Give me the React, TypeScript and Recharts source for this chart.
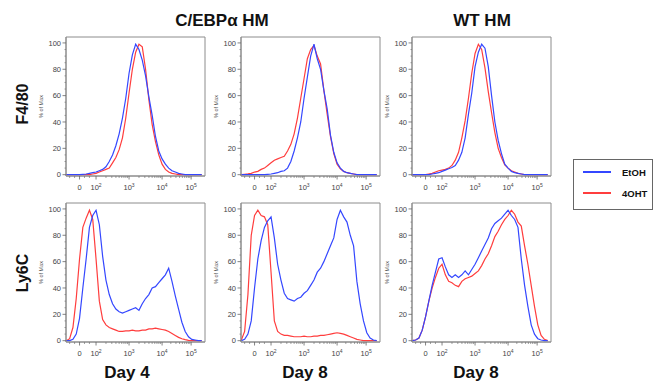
import React from "react";
import { LineChart, Line, XAxis, YAxis, ReferenceArea } from "recharts";

// histogram bins on the logicle display scale (0 = zero, 0.5 = 10^2, 1.5 = 10^3, 2.5 = 10^4)
const BINS = [
  -0.4, -0.3, -0.2, -0.1, 0, 0.1, 0.2, 0.3, 0.4, 0.5, 0.6, 0.7, 0.8, 0.9, 1.0, 1.1, 1.2, 1.3, 1.4, 1.5, 1.6,
  1.7, 1.8, 1.9, 2.0, 2.1, 2.2, 2.3, 2.4, 2.5, 2.6, 2.7, 2.8, 2.9, 3.0, 3.1, 3.2, 3.3, 3.4, 3.5, 3.6, 3.7,
];

const COLUMNS = ["C/EBPα HM", "WT HM"];
const ROWS = ["F4/80", "Ly6C"];
const DAYS = ["Day 4", "Day 8", "Day 8"];
const SERIES = ["EtOH", "4OHT"];

const X_MAJOR = [0, 0.5, 1.5, 2.5, 3.38];
const X_BASE = ["0", "10", "10", "10", "10"];
const X_EXP = ["", "2", "3", "4", "5"];
const Y_MAJOR = [0, 20, 40, 60, 80, 100];

// % of max, F4/80
const F480_CEBPA_D4_ETOH = [0, 0, 0, 0, 0, 0.3, 0.5, 1, 1.5, 2, 3, 4, 6, 10, 15, 22, 31, 43, 58, 77, 91, 99, 95, 87, 75, 59, 45, 29, 18, 12, 8, 5, 3, 2, 1, 0.5, 0, 0, 0, 0, 0, 0];
const F480_CEBPA_D4_4OHT = [0, 0, 0, 0, 0, 0, 0, 0, 0.5, 1, 2, 3, 4, 5, 9, 13, 19, 28, 43, 62, 80, 93, 99, 97, 80, 57, 38, 25, 15, 8, 4, 2, 1, 0.5, 0, 0, 0, 0, 0, 0, 0, 0];
const F480_CEBPA_D8_ETOH = [0, 0, 0, 0, 0, 0, 0, 0, 0.3, 0.5, 1, 1.5, 2.5, 3, 5, 10, 18, 28, 40, 58, 74, 90, 99, 88, 80, 64, 50, 30, 17, 9, 5, 2.5, 1.5, 1, 0.5, 0, 0, 0, 0, 0, 0, 0];
const F480_CEBPA_D8_4OHT = [0, 0.3, 0.6, 1, 2, 2.5, 4, 5, 7, 9, 11, 12, 13, 14, 18, 23, 31, 43, 58, 73, 88, 95, 98, 90, 84, 64, 46, 29, 16, 8, 4.5, 2.5, 1.5, 1, 0.5, 0, 0, 0, 0, 0, 0, 0];
const F480_WT_D8_ETOH = [0, 0, 0, 0, 0, 0, 0.5, 1, 1.5, 2.5, 3.5, 4.5, 5.5, 7, 11, 17, 28, 46, 62, 82, 93, 99, 96, 82, 60, 40, 26, 16, 8, 5, 2.5, 1.5, 1, 0.5, 0, 0, 0, 0, 0, 0, 0, 0];
const F480_WT_D8_4OHT = [0, 0, 0, 0, 0, 0.5, 1, 2, 3, 3.5, 4, 5, 7, 11, 17, 28, 41, 58, 77, 92, 99, 95, 81, 63, 47, 32, 20, 13, 7.5, 5, 3, 2, 1, 0.5, 0, 0, 0, 0, 0, 0, 0, 0];

// % of max, Ly6C
const LY6C_CEBPA_D4_ETOH = [0, 0, 1, 5, 17, 40, 62, 86, 95, 99, 88, 64, 46, 35, 28, 24, 22, 21, 22, 23, 24, 25, 23, 28, 32, 35, 40, 41, 44, 47, 50, 55, 45, 34, 24, 14, 7, 3, 1, 0.5, 0, 0];
const LY6C_CEBPA_D4_4OHT = [0, 1.5, 10, 32, 62, 86, 93, 99, 92, 62, 30, 16, 12, 10, 9, 8, 7, 7, 7.5, 7.5, 8, 7.5, 7.5, 8, 8, 9, 9, 9.5, 9, 8.5, 8, 7, 5.5, 4, 2.5, 1.5, 0.8, 0.3, 0, 0, 0, 0];
const LY6C_CEBPA_D8_ETOH = [0, 1, 5, 15, 40, 62, 76, 86, 91, 94, 78, 58, 46, 36, 32, 31, 30, 32, 33, 36, 38, 42, 46, 52, 55, 60, 66, 72, 78, 92, 99, 94, 90, 80, 72, 45, 28, 15, 6, 2, 0.5, 0];
const LY6C_CEBPA_D8_4OHT = [0.5, 7, 35, 80, 95, 99, 95, 94, 88, 52, 15, 7, 5, 4, 4, 3.5, 3, 3, 3, 3.5, 3, 3, 3.5, 3.5, 4, 4, 4.5, 5, 5.5, 6, 5.5, 5, 4, 3, 2, 1, 0.5, 0, 0, 0, 0, 0];
const LY6C_WT_D8_ETOH = [0, 0.5, 2, 8, 18, 30, 42, 52, 62, 63, 56, 50, 48, 50, 48, 50, 53, 50, 54, 58, 63, 68, 73, 78, 85, 89, 91, 93, 96, 99, 95, 92, 86, 62, 42, 26, 12, 5, 1.5, 0.5, 0, 0];
const LY6C_WT_D8_4OHT = [0, 0.5, 2, 8, 18, 30, 40, 48, 55, 58, 50, 45, 44, 42, 41, 45, 47, 48, 49, 51, 53, 57, 62, 66, 72, 79, 83, 88, 92, 95, 99, 96, 90, 87, 72, 58, 42, 26, 12, 4, 1, 0];

const BLUE = "#3447ff";
const RED = "#ff3d3d";
const FRAME = "#8c8c8c";
const FONT = "'Liberation Sans', Arial, Helvetica, sans-serif";
const X_DOMAIN = [-0.41, 3.8];
const Y_DOMAIN = [-1, 104.5];

// minor ticks: a few in the linear zone, 2..9 in each decade
const X_MINOR: number[] = [-0.3, -0.15, 0.15, 0.3];
[0.5, 1.5, 2.5].forEach((start, d) => {
  const span = d === 2 ? X_MAJOR[4] - X_MAJOR[3] : 1;
  for (let m = 2; m <= 9; m++) X_MINOR.push(start + Math.log10(m) * span);
});
const X_TICKS = [...X_MAJOR, ...X_MINOR];
const Y_TICKS = Array.from({ length: 21 }, (_, i) => i * 5);

const PLOT = 139;
const YW = 36;
const XH = 24;

function XTick(props: any) {
  const { x, y, payload } = props;
  const i = X_MAJOR.findIndex((v) => Math.abs(v - payload.value) < 1e-6);
  if (i < 0) return <line x1={x} x2={x} y1={y} y2={y + 2} stroke="#777" strokeWidth={0.7} />;
  return (
    <g>
      <line x1={x} x2={x} y1={y} y2={y + 3.5} stroke="#666" strokeWidth={0.8} />
      <text x={x} y={y + 13.5} textAnchor="middle" fontSize={7.5} fill="#444" fontFamily={FONT}>
        {X_BASE[i]}
        {X_EXP[i] ? (
          <tspan dy={-3} fontSize={5}>
            {X_EXP[i]}
          </tspan>
        ) : null}
      </text>
    </g>
  );
}

function YTick(props: any) {
  const { x, y, payload } = props;
  const major = Y_MAJOR.includes(payload.value);
  if (!major) return <line x1={x} x2={x - 1.5} y1={y} y2={y} stroke="#777" strokeWidth={0.7} />;
  return (
    <g>
      <line x1={x} x2={x - 3.5} y1={y} y2={y} stroke="#666" strokeWidth={0.8} />
      <text x={x - 5} y={y + 2.6} textAnchor="end" fontSize={7.5} fill="#444" fontFamily={FONT}>
        {payload.value}
      </text>
    </g>
  );
}

function MaxLabel(props: any) {
  const { viewBox } = props;
  const cx = viewBox.x + 13;
  const cy = viewBox.y + viewBox.height / 2;
  return (
    <text transform={`translate(${cx},${cy}) rotate(-90)`} textAnchor="middle" fontSize={5.5} fill="#555" fontFamily={FONT}>
      % of Max
    </text>
  );
}

function Histogram({ etoh, oht, left, top }: { etoh: number[]; oht: number[]; left: number; top: number }) {
  const data = BINS.map((u, i) => ({ u, etoh: etoh[i], oht: oht[i] }));
  return (
    <div style={{ position: "absolute", left: left - YW, top: top - 1 }}>
      <LineChart width={YW + PLOT + 1} height={1 + PLOT + XH} data={data} margin={{ top: 1, right: 1, bottom: 0, left: 0 }}>
        <XAxis
          dataKey="u"
          type="number"
          domain={X_DOMAIN}
          allowDataOverflow
          ticks={X_TICKS}
          interval={0}
          tick={<XTick />}
          tickLine={false}
          tickSize={0}
          tickMargin={0}
          height={XH}
          axisLine={{ stroke: FRAME }}
        />
        <YAxis
          type="number"
          domain={Y_DOMAIN}
          allowDataOverflow
          ticks={Y_TICKS}
          interval={0}
          tick={<YTick />}
          tickLine={false}
          tickSize={0}
          tickMargin={0}
          width={YW}
          axisLine={{ stroke: FRAME }}
          label={<MaxLabel />}
        />
        <ReferenceArea x1={X_DOMAIN[0]} x2={X_DOMAIN[1]} y1={Y_DOMAIN[0]} y2={Y_DOMAIN[1]} fill="none" stroke={FRAME} strokeWidth={1} ifOverflow="visible" />
        <Line dataKey="oht" name={SERIES[1]} stroke={RED} strokeWidth={1.2} dot={false} type="linear" isAnimationActive={false} />
        <Line dataKey="etoh" name={SERIES[0]} stroke={BLUE} strokeWidth={1.2} dot={false} type="linear" isAnimationActive={false} />
      </LineChart>
    </div>
  );
}

const PANELS = [
  { etoh: F480_CEBPA_D4_ETOH, oht: F480_CEBPA_D4_4OHT, left: 66, top: 37 },
  { etoh: F480_CEBPA_D8_ETOH, oht: F480_CEBPA_D8_4OHT, left: 241, top: 37 },
  { etoh: F480_WT_D8_ETOH, oht: F480_WT_D8_4OHT, left: 412, top: 37 },
  { etoh: LY6C_CEBPA_D4_ETOH, oht: LY6C_CEBPA_D4_4OHT, left: 66, top: 203 },
  { etoh: LY6C_CEBPA_D8_ETOH, oht: LY6C_CEBPA_D8_4OHT, left: 241, top: 203 },
  { etoh: LY6C_WT_D8_ETOH, oht: LY6C_WT_D8_4OHT, left: 412, top: 203 },
];

export default function App() {
  const bold = { fontFamily: FONT, fontWeight: 700, fill: "#111" } as const;
  return (
    <div style={{ position: "absolute", left: 0, top: 0, width: 658, height: 384, background: "#fff", overflow: "hidden" }}>
      <svg width={658} height={384} style={{ position: "absolute", left: 0, top: 0 }}>
        <text x={222} y={26} textAnchor="middle" fontSize={17} {...bold}>{COLUMNS[0]}</text>
        <text x={482} y={26} textAnchor="middle" fontSize={17} {...bold}>{COLUMNS[1]}</text>
        <text transform="translate(28,104) rotate(-90)" textAnchor="middle" fontSize={16} {...bold}>{ROWS[0]}</text>
        <text transform="translate(28,273) rotate(-90)" textAnchor="middle" fontSize={16} {...bold}>{ROWS[1]}</text>
        <text x={127} y={378} textAnchor="middle" fontSize={17} {...bold}>{DAYS[0]}</text>
        <text x={305} y={378} textAnchor="middle" fontSize={17} {...bold}>{DAYS[1]}</text>
        <text x={476} y={378} textAnchor="middle" fontSize={17} {...bold}>{DAYS[2]}</text>
        <rect x={573.5} y={159.5} width={79} height={50} fill="#fff" stroke="#666" strokeWidth={1} />
        <line x1={583} x2={611} y1={172} y2={172} stroke={BLUE} strokeWidth={2} />
        <line x1={583} x2={611} y1={193} y2={193} stroke={RED} strokeWidth={2} />
        <text x={622} y={175.5} fontSize={9.5} {...bold}>{SERIES[0]}</text>
        <text x={622} y={196.5} fontSize={9.5} {...bold}>{SERIES[1]}</text>
      </svg>
      {PANELS.map((p, i) => (
        <Histogram key={i} {...p} />
      ))}
    </div>
  );
}
